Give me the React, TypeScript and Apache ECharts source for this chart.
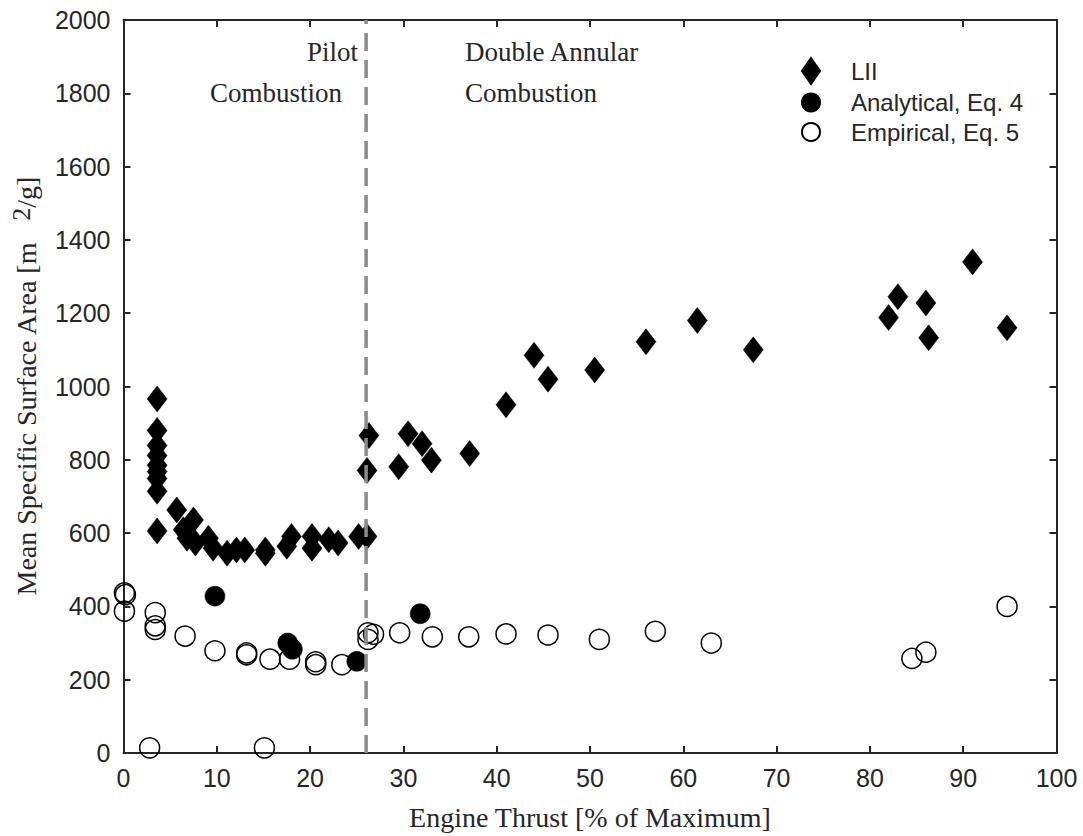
import React, { useEffect, useRef } from "react";
import * as echarts from "echarts";

// LII measurements [thrust %, m2/g]
const liiPoints: number[][] = [
  [3.6, 966], [3.6, 880], [3.6, 839], [3.6, 812], [3.6, 785], [3.6, 768], [3.6, 749], [3.6, 714], [3.6, 606],
  [5.7, 663], [7.5, 636], [6.4, 609], [6.8, 586], [7.7, 573], [9.1, 586], [9.6, 559], [11.1, 545],
  [12.1, 554], [13.0, 554], [15.2, 554], [15.2, 545], [17.5, 564], [18.0, 591], [20.2, 591], [20.2, 559],
  [22.0, 582], [23.0, 573], [25.2, 591], [26.1, 591],
  [26.3, 866], [26.1, 771], [29.5, 781], [30.5, 871], [32.0, 844], [33.0, 799], [37.1, 817],
  [41.0, 950], [44.0, 1085], [45.5, 1020], [50.5, 1045], [56.0, 1122], [61.5, 1180], [67.5, 1100],
  [82.0, 1188], [83.0, 1245], [86.0, 1228], [86.3, 1133], [91.0, 1340], [94.7, 1160],
];

// Analytical, Eq. 4
const analyticalPoints: number[][] = [
  [9.8, 428], [17.6, 300], [18.1, 283], [25.0, 250], [31.8, 380],
];

// Empirical, Eq. 5
const empiricalPoints: number[][] = [
  [0.1, 437], [0.2, 432], [0.1, 387], [3.4, 383], [3.4, 347], [3.4, 337], [2.8, 14],
  [6.6, 319], [9.8, 279], [13.2, 268], [13.2, 273], [15.1, 14], [15.7, 256], [17.8, 256],
  [20.6, 241], [20.6, 249], [23.4, 241], [26.2, 328], [26.2, 310], [26.8, 324], [29.6, 328],
  [33.1, 317], [37.0, 317], [41.0, 325], [45.5, 322], [51.0, 310], [57.0, 332], [63.0, 300],
  [84.5, 258], [86.0, 275], [94.7, 400],
];

// Regime boundary
const boundaryX = 26;
const boundaryLine: number[][] = [[boundaryX, 0], [boundaryX, 2000]];

const seriesNames = ["LII", "Analytical, Eq. 4", "Empirical, Eq. 5"];

const AX = "#262626";
const SANS = "Liberation Sans";
const SERIF = "Liberation Serif";

export default function App() {
  const ref = useRef<HTMLDivElement>(null);
  useEffect(() => {
    const chart = echarts.init(ref.current!, null, { renderer: "svg" });
    const axisLine = { show: true, onZero: false, lineStyle: { color: AX, width: 2 } };
    const axisTick = { show: true, inside: true, length: 7, lineStyle: { color: AX, width: 2 } };
    const plain = (v: number) => String(v);
    chart.setOption({
      animation: false,
      backgroundColor: "#fff",
      grid: { left: 123.5, top: 20, width: 933, height: 736 },
      xAxis: [
        {
          type: "value", min: 0, max: 100, interval: 10, position: "bottom",
          axisLine, axisTick, splitLine: { show: false },
          axisLabel: { fontFamily: SANS, fontSize: 25, color: AX, margin: 12, formatter: plain },
          name: "Engine Thrust [% of Maximum]", nameLocation: "middle", nameGap: 50,
          nameTextStyle: { fontFamily: SERIF, fontSize: 28, color: AX },
        },
        {
          type: "value", min: 0, max: 100, interval: 10, position: "top",
          axisLine, axisTick, splitLine: { show: false }, axisLabel: { show: false },
        },
      ],
      yAxis: [
        {
          type: "value", min: 0, max: 2000, interval: 200, position: "left",
          axisLine, axisTick, splitLine: { show: false },
          axisLabel: { fontFamily: SANS, fontSize: 25, color: AX, margin: 13, formatter: plain },
          name: "{a|Mean Specific Surface Area [m   }{s|2}{a|/g]}",
          nameLocation: "middle", nameGap: 78,
          nameTextStyle: {
            color: AX,
            rich: {
              a: { fontFamily: SERIF, fontSize: 28, color: AX, lineHeight: 34 },
              s: { fontFamily: SERIF, fontSize: 26, color: AX, lineHeight: 34, padding: [0, 0, 10, 0] },
            },
          },
        },
        {
          type: "value", min: 0, max: 2000, interval: 200, position: "right",
          axisLine, axisTick, splitLine: { show: false }, axisLabel: { show: false },
        },
      ],
      legend: {
        orient: "vertical", left: 796, top: 52,
        itemWidth: 18, itemHeight: 26, itemGap: 5.5,
        textStyle: { fontFamily: SANS, fontSize: 24, color: AX, padding: [0, 0, 0, 26] },
        data: [
          { name: seriesNames[0], icon: "diamond" },
          { name: seriesNames[1], icon: "circle" },
          { name: seriesNames[2], icon: "circle" },
        ],
      },
      series: [
        {
          name: seriesNames[0], type: "scatter", data: liiPoints, z: 3,
          symbol: "diamond", symbolSize: [20, 26],
          itemStyle: { color: "#000", borderColor: "#000", borderWidth: 0.5, opacity: 1 },
        },
        {
          name: seriesNames[1], type: "scatter", data: analyticalPoints, z: 4,
          symbol: "circle", symbolSize: 20,
          itemStyle: { color: "#000", borderColor: "#000", borderWidth: 0.5, opacity: 1 },
        },
        {
          name: seriesNames[2], type: "scatter", data: empiricalPoints, z: 2,
          symbol: "circle", symbolSize: 20,
          itemStyle: { color: "rgba(0,0,0,0)", borderColor: "#000", borderWidth: 1.5, opacity: 1 },
        },
        {
          name: "boundary", type: "line", data: boundaryLine, z: 6, silent: true,
          symbol: "none",
          lineStyle: { color: "#8a8a8a", width: 3.5, type: [18, 9] },
        },
      ],
      graphic: [
        { type: "text", left: 307, top: 38, style: { text: "Pilot", fontFamily: SERIF, fontSize: 27, fill: AX } },
        { type: "text", left: 210, top: 79, style: { text: "Combustion", fontFamily: SERIF, fontSize: 27, fill: AX } },
        { type: "text", left: 465, top: 38, style: { text: "Double Annular", fontFamily: SERIF, fontSize: 27, fill: AX } },
        { type: "text", left: 465, top: 79, style: { text: "Combustion", fontFamily: SERIF, fontSize: 27, fill: AX } },
      ],
    });
    return () => chart.dispose();
  }, []);
  return (
    <div
      ref={ref}
      style={{ position: "fixed", left: 0, top: 0, width: 1083, height: 836, background: "#fff" }}
    />
  );
}
